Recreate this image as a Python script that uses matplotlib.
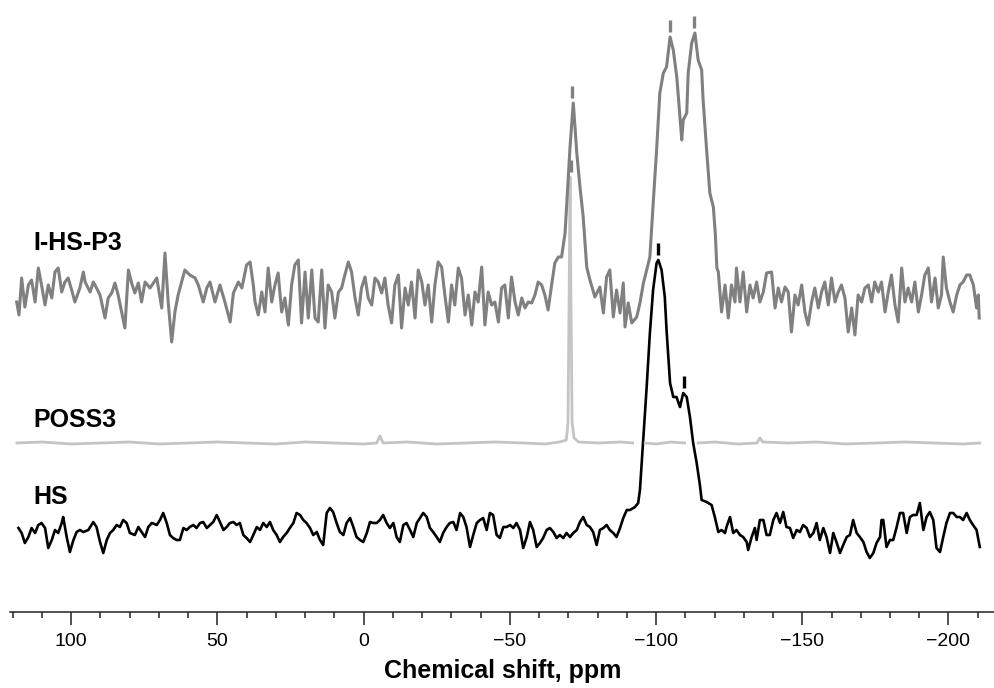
import numpy as np
import matplotlib.pyplot as plt

plt.rcParams['font.family'] = ['Liberation Sans', 'DejaVu Sans']

# I-HS-P3 (gray), intensities relative to its own baseline
ihs_ppm = [118.6, 117.8, 116.9, 115.8, 114.6, 113.5, 112.3, 111.2, 110.1, 108.9, 107.8, 106.6, 105.5, 104.4,
           103.2, 102.1, 101.0, 99.8, 98.7, 97.0, 95.8, 95.2, 93.5, 92.4, 91.3, 90.1, 88.4, 87.3, 86.1, 85.0,
           83.9, 81.6, 80.4, 79.3, 78.2, 77.0, 75.9, 74.7, 73.0, 70.7, 69.0, 67.9, 66.8, 65.6, 64.5, 63.4,
           62.2, 61.1, 59.4, 57.6, 56.5, 54.8, 53.6, 52.5, 50.8, 49.1, 47.4, 45.6, 44.5, 42.8, 41.6, 40.0,
           38.8, 37.7, 37.1, 36.0, 34.8, 33.7, 32.6, 31.4, 30.3, 29.2, 28.0, 26.9, 25.7, 24.6, 23.5, 22.3,
           21.2, 20.0, 18.9, 17.7, 16.6, 15.5, 14.3, 13.2, 12.1, 10.9, 9.8, 8.6, 7.5, 6.4, 5.2, 4.1, 2.9,
           1.8, 0.7, -0.5, -1.6, -2.8, -3.9, -5.0, -6.2, -7.3, -8.4, -9.6, -10.7, -11.9, -13.0, -14.2,
           -15.3, -16.4, -17.6, -18.7, -19.9, -21.0, -22.1, -23.3, -24.4, -25.5, -26.7, -27.8, -29.0,
           -30.1, -31.2, -32.4, -33.5, -34.7, -35.8, -37.0, -38.1, -39.2, -40.4, -41.5, -42.6, -43.8,
           -44.9, -46.1, -47.2, -48.3, -49.5, -50.6, -51.8, -52.9, -54.1, -55.2, -56.3, -57.5, -58.6,
           -59.7, -60.9, -62.0, -63.1, -64.3, -65.4, -66.6, -67.7, -68.9, -70.0, -70.6, -71.1, -71.7,
           -72.3, -72.9, -74.0, -75.1, -76.3, -77.4, -79.1, -80.8, -82.0, -83.1, -84.2, -85.4, -86.5,
           -87.7, -88.8, -89.4, -90.5, -91.7, -93.4, -94.5, -95.7, -96.8, -97.9, -99.1, -100.2, -101.3,
           -102.5, -103.6, -104.8, -105.9, -107.1, -108.2, -108.8, -109.3, -110.5, -111.0, -112.2,
           -113.3, -114.4, -115.6, -116.1, -117.3, -118.4, -119.6, -120.3, -120.8, -121.3, -122.4,
           -123.6, -124.7, -125.8, -127.0, -127.5, -128.7, -129.8, -131.0, -132.1, -133.2, -134.4,
           -135.5, -136.7, -137.8, -139.5, -140.7, -141.8, -142.9, -144.1, -145.2, -146.3, -147.5,
           -148.6, -149.8, -150.9, -152.0, -153.2, -154.3, -155.5, -156.6, -157.7, -158.9, -160.0,
           -161.2, -162.3, -163.4, -164.6, -165.7, -166.9, -168.0, -169.1, -170.3, -171.4, -172.6,
           -173.7, -174.8, -176.0, -177.1, -178.3, -179.4, -180.5, -181.7, -182.8, -184.0, -185.1,
           -186.2, -187.4, -188.5, -189.7, -190.8, -191.9, -193.1, -194.2, -195.4, -196.5, -197.6,
           -198.2, -199.3, -200.5, -201.6, -202.8, -203.9, -205.0, -206.2, -207.3, -208.5, -209.6,
           -210.2, -210.5]
ihs_int = [-7, -20, 17, -12, 10, 15, -7, 27, 10, -10, 10, -3, 23, 27,
           3, 13, 17, 5, -7, 7, 23, 13, 3, 13, 7, 0, -23, -3, 2, 12,
           0, -33, 25, 12, 2, 12, -7, 13, 7, 17, -13, 42, -7, -47, -17, 0,
           13, 25, 20, 17, 10, -7, 7, 13, -7, 10, -7, -27, 2, 13, 7, 30,
           33, 10, -7, -20, 3, -17, 27, -7, 10, 22, -17, -3, -30, 10, 30, 35,
           -28, 23, -23, 25, -23, -27, 25, -33, 10, 3, -23, 3, 7, 20, 33, 23, -3,
           -20, 7, 18, -3, -10, 17, 13, 2, 17, -10, -28, 10, 20, -33, 7,
           -10, 13, -23, 25, 13, -10, 10, -27, 10, 33, 28, 0, -27,
           10, -10, 27, 17, -20, 0, -30, 3, -7, 28, -30, 3, -10,
           -7, -27, 7, 10, -23, 18, -7, -20, -3, -13, -7, -8, 0,
           13, 10, 0, -15, 10, 32, 38, 38, 62, 118, 148, 168, 192,
           168, 142, 108, 78, 28, 15, -2, 8, -18, 18, 25, -22, 5,
           -18, 12, -32, -8, -28, -22, -8, 12, 25, 38, 95, 145, 202,
           222, 228, 258, 245, 218, 178, 155, 175, 182, 222, 252,
           262, 235, 225, 195, 145, 102, 88, 60, 27, 23, -17,
           10, -23, 10, -7, 27, -7, 23, -17, 10, -3, 13,
           -7, 3, 22, 23, -13, 7, -7, 8, 3, -37, 0,
           -10, 10, -17, -30, -7, 7, -13, 3, 13, -10, 17,
           -7, 3, 10, -3, -37, -13, -40, 0, -7, 7, 10,
           -7, 13, 3, 13, -17, 3, 20, -10, -27, 27, -7,
           7, -7, 13, -17, 0, 20, 27, -7, 17, -13, 0,
           38, 7, -7, -17, 0, 10, 13, 20, 20, 10, -13,
           0, -23]

# POSS3 (light gray); nan leaves the two breaks seen in the trace
poss_ppm = [118.5, 110, 100, 90, 80, 70, 60, 50, 40, 30, 20, 10, 0, -4.5, -5.6, -6.7, -15, -25, -35,
            -45, -55, -62, -67, -69.3, -69.9, -70.3, -70.6, -70.9, -71.3, -72.0, -73.5, -80, -88, -92,
            -94, -96.3, -100, -105, -109.8, -112, -114.4, -120, -128, -134.5, -135.5, -136.5, -145,
            -155, -165, -175, -185, -195, -205, -210.7]
poss_int = [0, 1, -1, 0, 1, -1, 0, 1, 0, -1, 1, 0, -1, 0, 7, 0, 1, -1, 0,
            1, 0, -1, 1, 3, 20, 150, 266, 150, 20, 5, 1, 0, 1, 0,
            np.nan, 0, -1, 1, 0, np.nan, 0, 1, -1, 0, 5, 1, 0,
            1, -1, 0, 1, 0, -1, 0]

# HS (black)
hs_ppm = [118.0, 116.9, 115.8, 114.6, 113.5, 112.3, 111.2, 110.1, 108.9, 107.8, 106.6, 105.5, 104.4,
          103.2, 102.7, 101.5, 100.4, 99.2, 98.1, 97.0, 95.8, 94.1, 92.4, 91.3, 90.1, 89.0, 87.8, 86.7,
          85.6, 84.4, 83.3, 82.2, 81.0, 79.9, 78.2, 77.0, 75.9, 74.7, 73.6, 72.4, 70.7, 69.6, 68.5,
          67.3, 66.2, 65.1, 63.9, 62.8, 61.6, 60.5, 59.4, 58.2, 57.1, 55.9, 54.8, 53.6, 52.5, 51.4,
          50.2, 49.1, 47.9, 46.8, 45.7, 44.5, 43.4, 42.3, 41.1, 40.0, 38.8, 37.7, 36.5, 35.4, 34.3,
          33.1, 32.0, 30.9, 29.7, 28.6, 27.5, 26.3, 25.2, 24.0, 22.9, 21.7, 20.6, 19.5, 18.3, 17.2,
          16.0, 14.9, 13.8, 12.6, 11.5, 10.4, 9.2, 8.1, 6.9, 5.8, 4.6, 3.5, 2.4, 1.2, 0.1, -1.1,
          -2.2, -3.3, -4.5, -5.6, -6.7, -7.9, -9.0, -10.2, -11.3, -12.4, -13.6, -14.7, -15.9, -17.0,
          -18.2, -19.3, -20.4, -21.6, -22.7, -23.8, -25.0, -26.1, -27.2, -28.4, -29.5, -30.7, -31.8,
          -33.0, -34.1, -35.2, -36.4, -37.5, -38.7, -39.8, -40.9, -42.1, -43.2, -44.3, -45.5, -46.6,
          -47.8, -48.9, -50.1, -51.2, -52.3, -53.5, -54.6, -55.8, -56.9, -58.0, -59.2, -60.3, -61.4,
          -62.6, -63.7, -64.9, -66.0, -67.1, -68.3, -69.4, -70.6, -71.7, -72.9, -74.0, -75.1, -76.3,
          -77.4, -78.5, -79.7, -80.8, -82.0, -83.1, -84.2, -85.4, -86.5, -87.7, -88.8, -90.0, -91.1,
          -92.8, -93.9, -94.5, -95.6, -96.8, -97.9, -99.0, -100.2, -100.8, -101.9, -103.0, -103.6,
          -104.2, -104.8, -105.9, -107.0, -108.2, -109.3, -110.5, -111.6, -112.7, -113.9, -115.0,
          -115.6, -117.3, -119.0, -120.1, -121.3, -122.4, -123.6, -124.1, -125.3, -126.4, -127.5,
          -128.7, -129.8, -131.0, -131.5, -132.7, -133.8, -134.4, -135.5, -136.7, -137.8, -138.9,
          -140.1, -141.2, -142.4, -143.5, -144.6, -145.8, -146.9, -148.1, -149.2, -150.3, -151.5,
          -152.6, -153.8, -154.9, -156.0, -157.2, -158.3, -159.5, -160.6, -161.7, -162.9, -164.0,
          -165.2, -166.3, -167.4, -168.6, -169.7, -170.9, -172.0, -173.1, -174.3, -175.4, -176.6,
          -177.1, -177.7, -178.8, -180.0, -181.1, -182.2, -183.4, -184.5, -185.7, -186.8, -187.9,
          -189.1, -190.2, -191.4, -192.5, -193.6, -194.8, -195.9, -197.1, -198.2, -199.3, -200.5,
          -201.6, -202.8, -203.9, -205.0, -206.2, -207.3, -208.4, -209.6, -210.7]
hs_int = [5, 0, -10, -4, 5, 0, 8, 10, 5, -15, -7, 3, 0,
          10, 16, -4, -19, -7, 1, 3, 1, 3, 11, 6, -9, -20, -7, 0,
          3, 8, 6, 13, 10, 0, -2, 6, 1, -4, 6, 10, 8, 13, 20,
          10, -2, -5, -7, -7, 5, 3, 6, 8, 5, 10, 11, 5, 8, 11,
          18, 11, 3, 6, 10, 11, 8, 10, -2, -5, -9, -2, 6, 3, 10,
          6, 11, 3, -2, -9, -4, 0, 5, 10, 20, 18, 13, 10, 5, -2,
          1, -7, -12, 20, 25, 21, 10, 1, -2, 10, 15, 6, -4, -7, -9, 0,
          11, 10, 10, 13, 18, 10, 5, 10, -4, -9, 8, 10, 3, -4,
          10, 15, 20, 16, 5, 1, -4, -9, 0, 6, 10, 11, 3,
          20, 16, 6, -14, -2, 10, 13, 15, 3, 20, 18, -2, -5,
          6, 6, 8, 5, 10, 3, -15, -4, 11, 3, -14, -10, -5,
          3, 5, 1, -5, -2, -5, 0, -4, 0, 3, 11, 16, 8,
          6, 1, -12, 3, 5, 8, 3, 0, -4, 5, 15, 23, 23,
          26, 30, 43, 93, 146, 200, 243, 270, 273, 263, 236, 203,
          176, 150, 136, 136, 126, 140, 136, 116, 90, 70, 48,
          33, 31, 28, 16, 1, 3, 0, 6, 16, 0, 3,
          -2, -4, -9, -17, -4, 5, -7, 13, 13, -2, -2,
          13, 20, 10, 21, 6, 5, -5, 3, 1, 8, 5,
          -4, 0, 10, -7, 5, -4, -20, 0, -9, -20, -12,
          -4, -2, 13, 0, -4, -9, -19, -25, -20, -10, -4,
          13, 13, -14, -7, -7, 5, 20, 20, 0, 16, 18,
          18, 30, 3, 16, 21, 13, -15, -19, -4, 10, 20,
          20, 16, 16, 13, 20, 13, 8, 3, -14]

# peak marks (ppm) above each trace
ihs_marks = [-71.4, -104.8, -113.1]
poss_marks = [-70.9]
hs_marks = [-100.8, -109.7]

names = ["I-HS-P3", "POSS3", "HS"]

fig = plt.figure(figsize=(9.95, 6.88), dpi=100)
ax = fig.add_axes([0.01, 76 / 688, 0.99, 612 / 688])

traces = [
    (ihs_ppm, ihs_int, ihs_marks, 317, "#808080", 2.2, 369),
    (poss_ppm, poss_int, poss_marks, 169, "#c4c4c4", 2.0, 192),
    (hs_ppm, hs_int, hs_marks, 79, "black", 1.9, 115),
]
for i, (x, y, marks, off, col, lw, ly) in enumerate(traces):
    x = np.array(x, dtype=float)
    y = np.array(y, dtype=float)
    ax.plot(x, y + off, color=col, lw=lw, zorder=3 - i)
    mcol = "#808080" if i < 2 else "black"
    for m in marks:
        near = (np.abs(x - m) < 1.5) & ~np.isnan(y)
        top = y[near].max() + off
        ax.vlines(m, top + 5, top + 17, color=mcol, lw=2.4, zorder=4)
    ax.text(113, ly, names[i], fontsize=18, fontweight="bold", va="center", ha="left")

ax.set_xlim(120.9, -215.9)
ax.set_ylim(0, 612)
ax.set_yticks([])
for s in ["left", "right", "top"]:
    ax.spines[s].set_visible(False)
ax.spines["bottom"].set_linewidth(1.1)
ax.spines["bottom"].set_color("#222222")
ax.set_xticks([100, 50, 0, -50, -100, -150, -200])
ax.set_xticks(np.arange(-210, 121, 10), minor=True)
ax.tick_params(axis="x", which="major", length=9.4, width=1.1, labelsize=14, pad=6, color="#222222")
ax.tick_params(axis="x", which="minor", length=4.3, width=1.1, color="#222222")
ax.set_xlabel("Chemical shift, ppm", fontsize=18, fontweight="bold", labelpad=6)

fig.savefig("out.png", dpi=100)
